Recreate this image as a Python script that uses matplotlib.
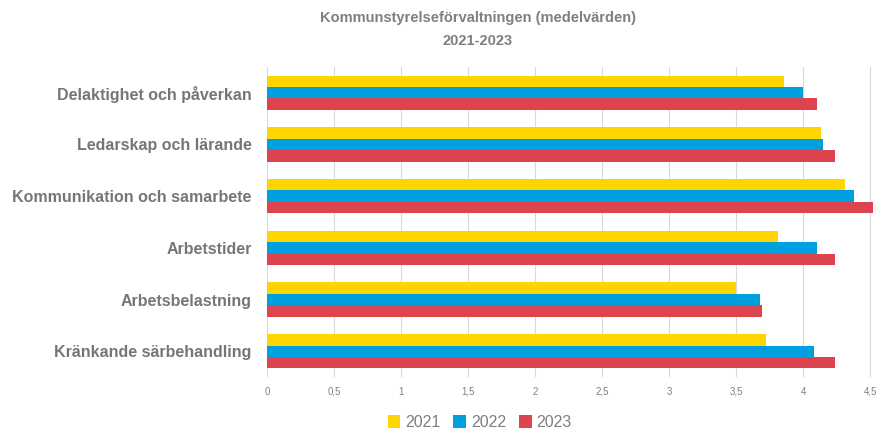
import numpy as np
import matplotlib
matplotlib.use("Agg")
import matplotlib.pyplot as plt

categories = ["Delaktighet och påverkan", "Ledarskap och lärande",
              "Kommunikation och samarbete", "Arbetstider",
              "Arbetsbelastning", "Kränkande särbehandling"]
v2021 = [3.86, 4.13, 4.31, 3.81, 3.50, 3.72]
v2022 = [4.00, 4.15, 4.38, 4.10, 3.68, 4.08]
v2023 = [4.10, 4.24, 4.52, 4.24, 3.69, 4.24]
years = ["2021", "2022", "2023"]
colors = ["#FFD500", "#009FDF", "#DE4350"]
ticks = [0, 0.5, 1, 1.5, 2, 2.5, 3, 3.5, 4, 4.5]
tick_labels = ["0", "0,5", "1", "1,5", "2", "2,5", "3", "3,5", "4", "4,5"]

plt.rcParams['font.family'] = ['Liberation Sans', 'DejaVu Sans']
gray = "#7F7F7F"

fig = plt.figure(figsize=(8.8, 4.29), dpi=100)
ax = fig.add_axes([0.3034, 0.121, 0.690, 0.723])

y = np.arange(len(categories))
h = 0.22
for i, (vals, yr, c) in enumerate(zip([v2021, v2022, v2023], years, colors)):
  ax.barh(y + (i - 1) * h, vals, height=h, color=c, label=yr, zorder=3)

ax.set_ylim(len(categories) - 0.5, -0.5)
ax.set_xlim(0, 4.53)
ax.set_yticks(y)
ax.set_yticklabels(categories, fontsize=11.5, fontweight="bold", color="#767676")
ax.set_xticks(ticks)
ax.set_xticklabels(tick_labels, fontsize=7, color=gray)
ax.tick_params(axis="y", length=0, pad=11)
ax.tick_params(axis="x", length=0, pad=7)
ax.grid(axis="x", color="#D9D9D9", linewidth=0.8, zorder=0)
for s in ax.spines.values():
  s.set_visible(False)

fig.text(0.543, 0.975, "Kommunstyrelseförvaltningen (medelvärden)\n2021-2023",
         ha="center", va="top", fontsize=10.5, fontweight="bold", color=gray,
         linespacing=1.8)

fig.legend(loc="center", bbox_to_anchor=(0.545, 0.015), ncol=3, frameon=False,
           fontsize=11.5, labelcolor=gray, handlelength=0.8, handleheight=0.8,
           handletextpad=0.3, columnspacing=0.8)

fig.savefig("out.png", dpi=100)
